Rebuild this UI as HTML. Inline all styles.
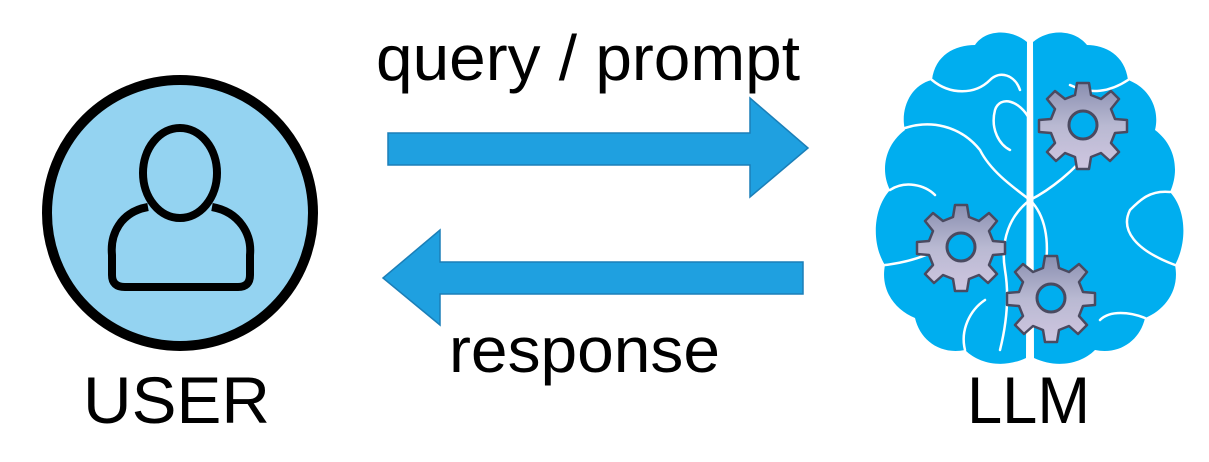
<!DOCTYPE html>
<html><head><style>
html,body{margin:0;padding:0;background:#fff;}
body{width:1209px;height:462px;overflow:hidden;position:relative;font-family:"Liberation Sans",Arial,sans-serif;}
</style></head><body>
<svg width="1209" height="462" viewBox="0 0 1209 462" xmlns="http://www.w3.org/2000/svg" style="position:absolute;left:0;top:0">
<defs>
<linearGradient id="g" x1="0" y1="0" x2="0" y2="1">
<stop offset="0" stop-color="#8a8fb0"/><stop offset="0.5" stop-color="#b9b9d2"/><stop offset="1" stop-color="#cfc6e0"/>
</linearGradient>
<g id="gear">
<path d="M-6,-42 L6,-42 L8,-30 L18,-26 L28,-34 L36,-26 L28,-16 L32,-6 L44,-5 L44,7 L32,8 L28,18 L36,27 L27,36 L18,28 L8,32 L6,44 L-6,44 L-8,32 L-18,28 L-27,36 L-36,27 L-28,18 L-32,8 L-44,7 L-44,-5 L-32,-6 L-28,-16 L-36,-26 L-28,-34 L-18,-26 L-8,-30 Z" fill="url(#g)" stroke="#4a4a60" stroke-width="2.5" stroke-linejoin="round"/>
<circle r="14" fill="#00aeef" stroke="#4a4a60" stroke-width="3"/>
</g>
</defs>
<circle cx="180" cy="213" r="133" fill="#94d3f1" stroke="#000" stroke-width="10"/>
<ellipse cx="180" cy="173" rx="37" ry="45" fill="#94d3f1" stroke="#000" stroke-width="8"/>
<path d="M148,207 C120,212 110,235 112,255 L112,275 Q112,287 125,287 L238,287 Q250,287 250,275 L250,255 C252,235 240,212 212,207" fill="none" stroke="#000" stroke-width="8" stroke-linejoin="round"/>
<path d="M388,133 L750,133 L750,98 L808,148 L750,197 L750,165 L388,165 Z" fill="#1fa0e0" stroke="#1b7fb8" stroke-width="1.5"/>
<path d="M803,262 L440,262 L440,230 L383,278 L440,325 L440,294 L803,294 Z" fill="#1fa0e0" stroke="#1b7fb8" stroke-width="1.5"/>
<g fill="#00aeef">
<path d="M1027,42 C1010,28 985,30 975,45 C955,45 935,55 932,80 C910,85 900,110 905,130 C885,145 880,170 890,190 C872,210 872,245 885,265 C880,290 895,310 915,318 C920,340 940,355 965,350 C980,365 1005,368 1026,358 Z"/>
<path d="M1033,42 C1050,28 1075,30 1087,45 C1105,45 1125,55 1128,80 C1150,88 1160,110 1155,130 C1175,145 1180,170 1170,192 C1188,212 1186,245 1175,265 C1180,290 1165,310 1145,318 C1140,340 1120,355 1095,350 C1080,365 1055,368 1034,358 Z"/>
</g>
<g fill="none" stroke="#fff" stroke-width="2.5" stroke-linecap="round">
<path d="M1030,50 L1030,360"/>
<path d="M1030,200 C1010,185 990,170 980,150 C960,125 930,120 905,128"/>
<path d="M1030,200 C1050,190 1075,170 1090,150"/>
<path d="M1030,200 C1010,215 1000,240 1005,270 C1010,300 1005,330 1000,350"/>
<path d="M1030,200 C1045,215 1050,240 1045,270"/>
<path d="M885,265 C910,262 930,255 945,245"/>
<path d="M1170,192 C1150,190 1140,200 1130,210 C1120,230 1135,250 1175,265"/>
<path d="M932,80 C950,95 975,95 990,80 C1000,70 1015,75 1020,90"/>
<path d="M1128,80 C1110,92 1090,95 1070,85"/>
<path d="M1030,120 C1020,100 1000,95 995,110 C990,130 1000,145 1010,150"/>
<path d="M890,190 C905,180 925,185 935,195"/>
<path d="M1145,318 C1130,312 1110,310 1100,320"/>
<path d="M965,350 C960,330 970,310 985,300"/>
</g>
<use href="#gear" transform="translate(1083,125)"/>
<use href="#gear" transform="translate(961,247)"/>
<use href="#gear" transform="translate(1051,298)"/>
<g font-family="Liberation Sans, Arial, sans-serif" fill="#000">
<text x="376" y="80" font-size="64" textLength="424" lengthAdjust="spacingAndGlyphs">query / prompt</text>
<text x="449" y="372" font-size="64" textLength="271" lengthAdjust="spacingAndGlyphs">response</text>
<text x="83" y="423" font-size="66" textLength="187" lengthAdjust="spacingAndGlyphs">USER</text>
<text x="967" y="423" font-size="66" textLength="123" lengthAdjust="spacingAndGlyphs">LLM</text>
</g>
</svg>
</body></html>
